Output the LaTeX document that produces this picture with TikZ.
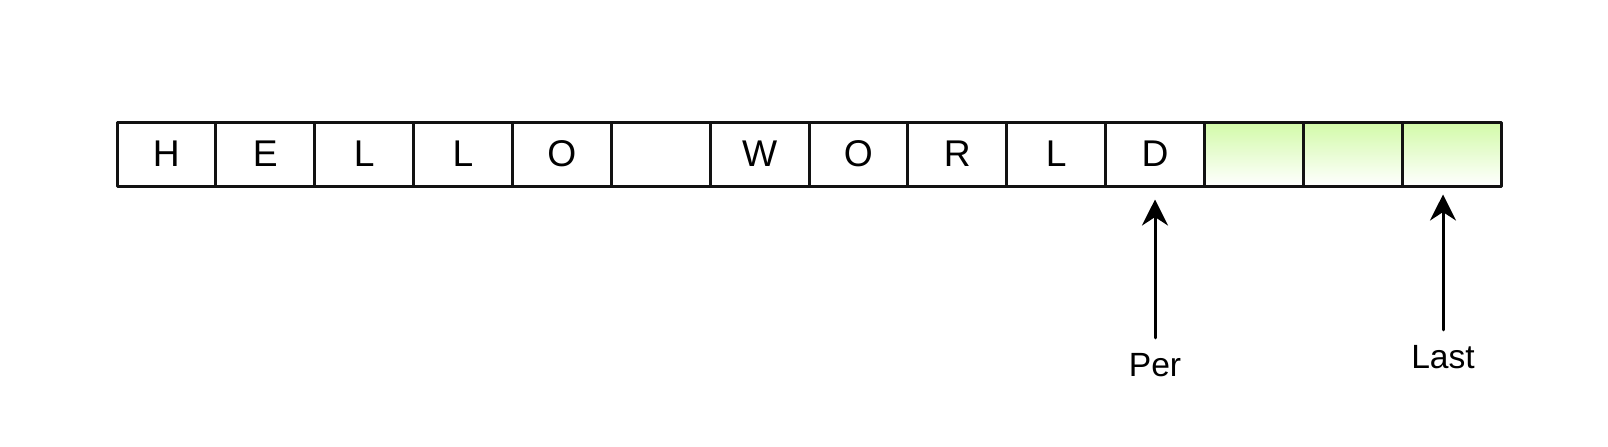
\documentclass[tikz,border=0pt]{standalone}
\usepackage{fontspec}
\setmainfont{Liberation Sans}
\usetikzlibrary{arrows.meta}
\definecolor{sparegreen}{RGB}{210,250,168}
\begin{document}
\begin{tikzpicture}[x=0.5pt, y=-0.5pt, line cap=round, line join=round, >={Stealth[length=13pt, width=13pt]}, font=\fontsize{18.6}{22}\selectfont]
	\tikzset{cell/.style={draw=black!93, line width=1.5pt, minimum width=49.43pt, minimum height=32pt, inner sep=0pt},
		sparecell/.style={cell, top color=sparegreen, bottom color=white},
		ptrlabel/.style={font=\fontsize{16.8}{20}\selectfont, inner sep=0pt}}
	\useasboundingbox (0,0) rectangle (1608,446);
	\foreach \ch [count=\i] in {H,E,L,L,O,{},W,O,R,L,D}
		\node[cell] (c\i) at ({117+(\i-0.5)*98.86},154) {\ch};
	\foreach \i in {12,13,14}
		\node[sparecell] (c\i) at ({117+(\i-0.5)*98.86},154) {};
	\node[ptrlabel] (per) at (1155,365) {Per};
	\node[ptrlabel] (last) at (1443,357) {Last};
	\draw[->, line width=1.5pt, shorten <=7.5pt, shorten >=6pt] (per.north) -- (per.north |- c11.south);
	\draw[->, line width=1.5pt, shorten <=7.5pt, shorten >=3.5pt] (last.north) -- (last.north |- c14.south);
\end{tikzpicture}
\end{document}
